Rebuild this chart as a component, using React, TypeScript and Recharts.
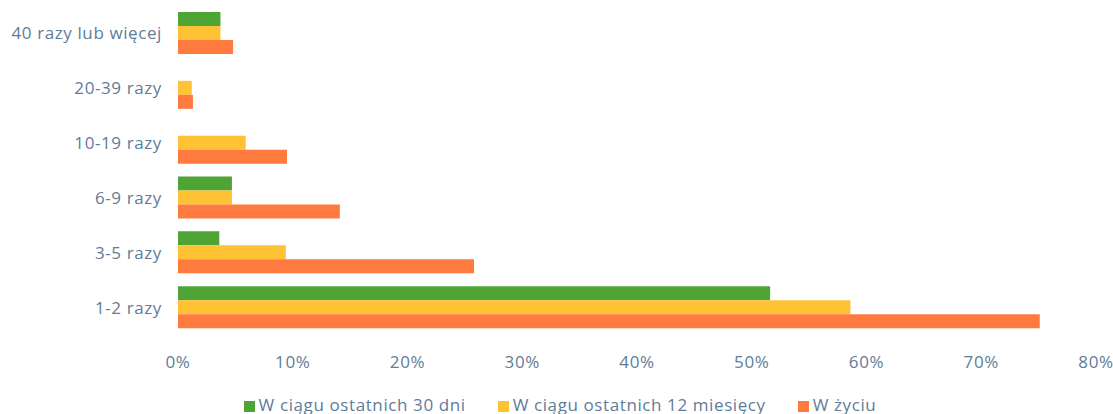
import { BarChart, Bar, XAxis, YAxis, Legend } from 'recharts';

const categories = ['40 razy lub więcej', '20-39 razy', '10-19 razy', '6-9 razy', '3-5 razy', '1-2 razy'];
const last30Days = [3.7, 0, 0, 4.7, 3.6, 51.6];
const last12Months = [3.7, 1.2, 5.9, 4.7, 9.4, 58.6];
const lifetime = [4.8, 1.3, 9.5, 14.1, 25.8, 75.1];
const xTicks = [0, 10, 20, 30, 40, 50, 60, 70, 80];

const seriesNames = ['W ciągu ostatnich 30 dni', 'W ciągu ostatnich 12 miesięcy', 'W życiu'];

const data = categories.map((name, i) => ({
    name,
    d30: last30Days[i],
    m12: last12Months[i],
    life: lifetime[i],
}));

const textColor = '#5f7c98';
const tickStyle = { fill: textColor, fontSize: 17, fontFamily: 'Open Sans, sans-serif', letterSpacing: 0.6 };

export default function App() {
    return (
        <div style={{ position: 'absolute', left: 0, top: 0, background: '#fff' }}>
            <BarChart
                width={1113}
                height={414}
                data={data}
                layout="vertical"
                margin={{ top: 6, right: 17, bottom: 0, left: 0 }}
                barGap={0}
            >
                <XAxis
                    type="number"
                    domain={[0, 80]}
                    ticks={xTicks}
                    tickFormatter={(v) => `${v}%`}
                    axisLine={false}
                    tickLine={false}
                    tick={tickStyle}
                    tickMargin={15}
                    height={49}
                    interval={0}
                />
                <YAxis
                    type="category"
                    dataKey="name"
                    axisLine={false}
                    tickLine={false}
                    tick={tickStyle}
                    tickMargin={10}
                    width={178}
                />
                <Legend
                    verticalAlign="bottom"
                    height={30}
                    iconType="square"
                    iconSize={11}
                    itemSorter={(item: any) => seriesNames.indexOf(item.value)}
                    wrapperStyle={{ left: 28, bottom: -9, fontSize: 17, fontFamily: 'Open Sans, sans-serif', letterSpacing: 0.6 }}
                    formatter={(value) => <span style={{ color: textColor, marginRight: 22 }}>{value}</span>}
                />
                <Bar dataKey="d30" name={seriesNames[0]} fill="#4ea535" barSize={14} isAnimationActive={false} />
                <Bar dataKey="m12" name={seriesNames[1]} fill="#ffc235" barSize={14} isAnimationActive={false} />
                <Bar dataKey="life" name={seriesNames[2]} fill="#ff7a3f" barSize={14} isAnimationActive={false} />
            </BarChart>
        </div>
    );
}
